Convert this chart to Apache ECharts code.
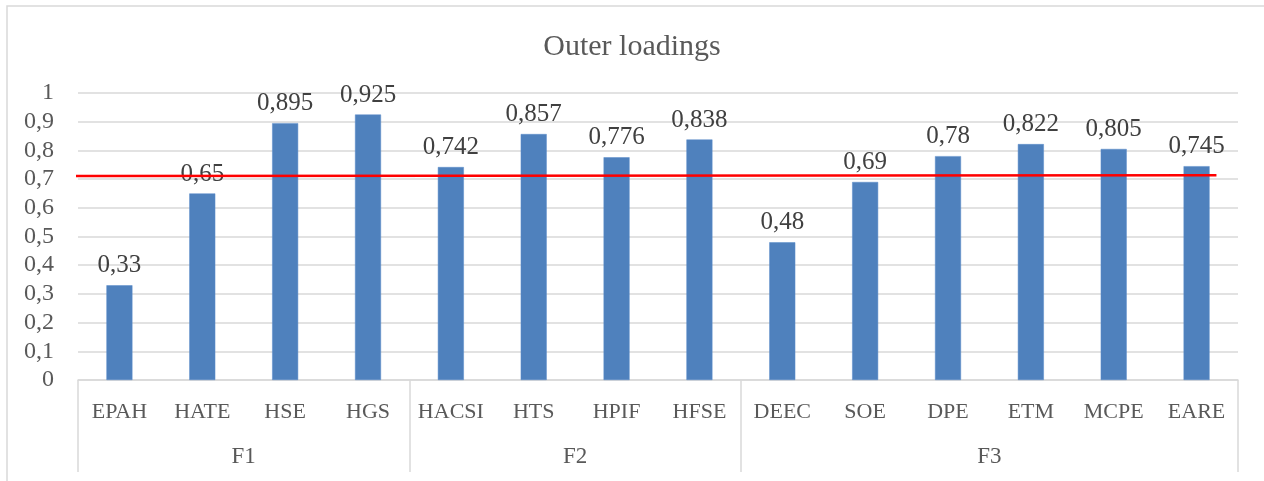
<!DOCTYPE html>
<html>
<head>
<meta charset="utf-8">
<script src="https://cdn.jsdelivr.net/npm/echarts@6/dist/echarts.min.js"></script>
<style>
html,body{margin:0;padding:0;background:#fff;}
#main{width:1264px;height:481px;}
</style>
</head>
<body>
<div id="main"></div>
<script>
var categories = ['EPAH','HATE','HSE','HGS','HACSI','HTS','HPIF','HFSE','DEEC','SOE','DPE','ETM','MCPE','EARE'];
var loadings = [0.33,0.65,0.895,0.925,0.742,0.857,0.776,0.838,0.48,0.69,0.78,0.822,0.805,0.745];
var groupNames = ['F1','F2','F3'];
var groupSizes = [4,4,6];
var yTicks = [0,0.1,0.2,0.3,0.4,0.5,0.6,0.7,0.8,0.9,1];
var thresholdX = [-0.72, 13.24];
var thresholdY = [0.711, 0.713];

var FONT = '"Liberation Serif", serif';
function fmt(v){ return String(Number(Number(v).toFixed(3))).replace('.', ','); }

// group boundaries & centres in category units
var bounds = [-0.5], centres = [], acc = -0.5;
groupSizes.forEach(function(n){ centres.push(acc + n/2); acc += n; bounds.push(acc); });

var chart = echarts.init(document.getElementById('main'));
chart.setOption({
  animation: false,
  backgroundColor: '#fff',
  title: {
    text: 'Outer loadings', left: 'center', top: 27,
    textStyle: {fontFamily: FONT, fontSize: 30, fontWeight: 'normal', color: '#595959'}
  },
  graphic: [{
    type: 'rect', shape: {x: 7, y: 6, width: 1300, height: 520},
    style: {fill: 'none', stroke: '#d9d9d9', lineWidth: 1.5}, silent: true
  }],
  grid: {left: 78, right: 26, top: 93, bottom: 101},
  xAxis: [{
    type: 'category', data: categories, position: 'bottom',
    axisLine: {show: true, lineStyle: {color: '#d9d9d9', width: 1.5}},
    axisTick: {show: false},
    axisLabel: {fontFamily: FONT, fontSize: 22, lineHeight: 22, color: '#595959', margin: 21, interval: 0},
    splitLine: {show: false}
  }, {
    type: 'value', min: -0.5, max: categories.length - 0.5, position: 'bottom',
    axisLine: {show: false},
    splitLine: {show: false},
    axisTick: {show: true, customValues: bounds, length: 92, lineStyle: {color: '#d9d9d9', width: 1.5}},
    axisLabel: {
      customValues: centres, fontFamily: FONT, fontSize: 23, lineHeight: 23, color: '#595959', margin: 65,
      formatter: function(v){ var i = centres.indexOf(v); return i >= 0 ? groupNames[i] : ''; }
    }
  }],
  yAxis: {
    type: 'value', min: 0, max: 1, interval: 0.1,
    axisLine: {show: false}, axisTick: {show: false},
    splitLine: {lineStyle: {color: '#d9d9d9', width: 1.5}},
    axisLabel: {fontFamily: FONT, fontSize: 24, color: '#595959', margin: 24, formatter: fmt}
  },
  series: [{
    type: 'bar', xAxisIndex: 0, data: loadings, barWidth: 26,
    itemStyle: {color: '#4F81BD', borderColor: '#5a8ccb', borderWidth: 0.5},
    label: {show: true, position: 'top', distance: 7, fontFamily: FONT, fontSize: 25, color: '#404040', formatter: function(p){ return fmt(p.value); }}
  }, {
    type: 'line', xAxisIndex: 1, clip: false, symbol: 'none', silent: true,
    data: [[thresholdX[0], thresholdY[0]], [thresholdX[1], thresholdY[1]]],
    lineStyle: {color: '#FF0000', width: 2.5}, z: 5
  }]
});
</script>
</body>
</html>
